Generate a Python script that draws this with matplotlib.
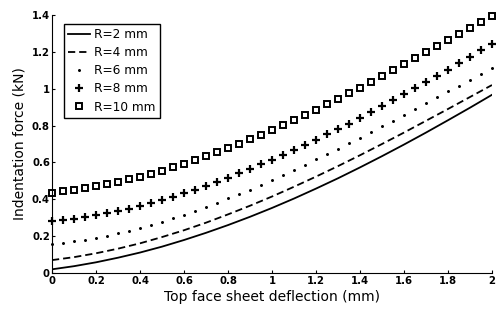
import numpy as np
import matplotlib
matplotlib.use("Agg")
import matplotlib.pyplot as plt

# deflection (mm)
x_line = [0.0, 0.1, 0.2, 0.3, 0.4, 0.5, 0.6, 0.7, 0.8, 0.9, 1.0,
          1.1, 1.2, 1.3, 1.4, 1.5, 1.6, 1.7, 1.8, 1.9, 2.0]
x_mark = [0.0, 0.05, 0.1, 0.15, 0.2, 0.25, 0.3, 0.35, 0.4, 0.45, 0.5,
          0.55, 0.6, 0.65, 0.7, 0.75, 0.8, 0.85, 0.9, 0.95, 1.0,
          1.05, 1.1, 1.15, 1.2, 1.25, 1.3, 1.35, 1.4, 1.45, 1.5,
          1.55, 1.6, 1.65, 1.7, 1.75, 1.8, 1.85, 1.9, 1.95, 2.0]

# indentation force (kN)
f_r2 = [0.020, 0.037, 0.058, 0.083, 0.111, 0.143, 0.179, 0.218, 0.260, 0.305, 0.353,
        0.404, 0.458, 0.514, 0.573, 0.634, 0.697, 0.762, 0.829, 0.897, 0.967]
f_r4 = [0.070, 0.086, 0.107, 0.132, 0.161, 0.195, 0.232, 0.273, 0.318, 0.365, 0.415,
        0.468, 0.523, 0.580, 0.639, 0.700, 0.762, 0.826, 0.890, 0.955, 1.020]
f_r6 = [0.157, 0.163, 0.171, 0.180, 0.191, 0.203, 0.216, 0.230, 0.245, 0.262, 0.279,
        0.298, 0.317, 0.338, 0.359, 0.381, 0.405, 0.429, 0.453, 0.479, 0.505,
        0.532, 0.559, 0.587, 0.616, 0.645, 0.674, 0.704, 0.734, 0.765, 0.796,
        0.827, 0.858, 0.890, 0.922, 0.953, 0.985, 1.017, 1.049, 1.081, 1.112]
f_r8 = [0.280, 0.287, 0.294, 0.303, 0.313, 0.324, 0.337, 0.350, 0.365, 0.380, 0.397,
        0.415, 0.433, 0.453, 0.473, 0.495, 0.517, 0.540, 0.564, 0.589, 0.614,
        0.640, 0.667, 0.695, 0.723, 0.752, 0.781, 0.811, 0.842, 0.873, 0.905,
        0.937, 0.969, 1.002, 1.036, 1.070, 1.104, 1.138, 1.173, 1.208, 1.243]
f_r10 = [0.436, 0.443, 0.450, 0.460, 0.470, 0.481, 0.494, 0.508, 0.523, 0.539, 0.556,
         0.574, 0.593, 0.613, 0.634, 0.656, 0.679, 0.702, 0.726, 0.751, 0.777,
         0.804, 0.831, 0.858, 0.887, 0.916, 0.945, 0.975, 1.006, 1.037, 1.068,
         1.100, 1.132, 1.164, 1.197, 1.230, 1.263, 1.296, 1.330, 1.363, 1.397]

labels = ["R=2 mm", "R=4 mm", "R=6 mm", "R=8 mm", "R=10 mm"]
xticks = [0, 0.2, 0.4, 0.6, 0.8, 1, 1.2, 1.4, 1.6, 1.8, 2]
xticklabels = ["0", "0.2", "0.4", "0.6", "0.8", "1", "1.2", "1.4", "1.6", "1.8", "2"]
yticks = [0, 0.2, 0.4, 0.6, 0.8, 1, 1.2, 1.4]
yticklabels = ["0", "0.2", "0.4", "0.6", "0.8", "1", "1.2", "1.4"]

plt.rcParams['font.family'] = ['DejaVu Sans']

fig = plt.figure(figsize=(4.98, 3.12), dpi=100)
ax = fig.add_axes([52/498, 39/312, 440/498, 258/312])

ax.plot(x_line, f_r2, color='k', lw=1.3, ls='-', label=labels[0])
ax.plot(x_line, f_r4, color='k', lw=1.3, ls=(0, (4, 2.2)), label=labels[1])
ax.plot(x_mark, f_r6, color='k', ls='none', marker='.', ms=2.3, label=labels[2], clip_on=False)
ax.plot(x_mark, f_r8, color='k', ls='none', marker='+', ms=5.2, mew=1.6, label=labels[3], clip_on=False)
ax.plot(x_mark, f_r10, color='k', ls='none', marker='s', ms=4.0, mew=1.4,
        mfc='white', mec='k', label=labels[4], clip_on=False)

ax.set_xlim(0, 2)
ax.set_ylim(0, 1.4)
ax.set_xticks(xticks)
ax.set_xticklabels(xticklabels)
ax.set_yticks(yticks)
ax.set_yticklabels(yticklabels)
for lab in ax.get_xticklabels() + ax.get_yticklabels():
    lab.set_fontweight('bold')
    lab.set_fontsize(7.3)
ax.tick_params(direction='in', length=2.5, width=0.8, pad=2)
ax.tick_params(axis='y', pad=1.5)
ax.spines['top'].set_visible(False)
ax.spines['right'].set_visible(False)
ax.spines['left'].set_linewidth(0.8)
ax.spines['bottom'].set_linewidth(0.8)

ax.set_xlabel("Top face sheet deflection (mm)", fontsize=10)
ax.set_ylabel("Indentation force (kN)", fontsize=10)
ax.xaxis.set_label_coords(0.5, -0.065)
ax.yaxis.set_label_coords(-0.058, 0.5)

leg = ax.legend(loc='upper left', bbox_to_anchor=(0.027, 0.965), fontsize=8.7,
                frameon=True, fancybox=False, edgecolor='k', framealpha=1,
                borderpad=0.35, labelspacing=0.42, handlelength=1.8,
                handletextpad=0.35, borderaxespad=0)
leg.get_frame().set_linewidth(1.0)

fig.savefig("out.png", dpi=100)
